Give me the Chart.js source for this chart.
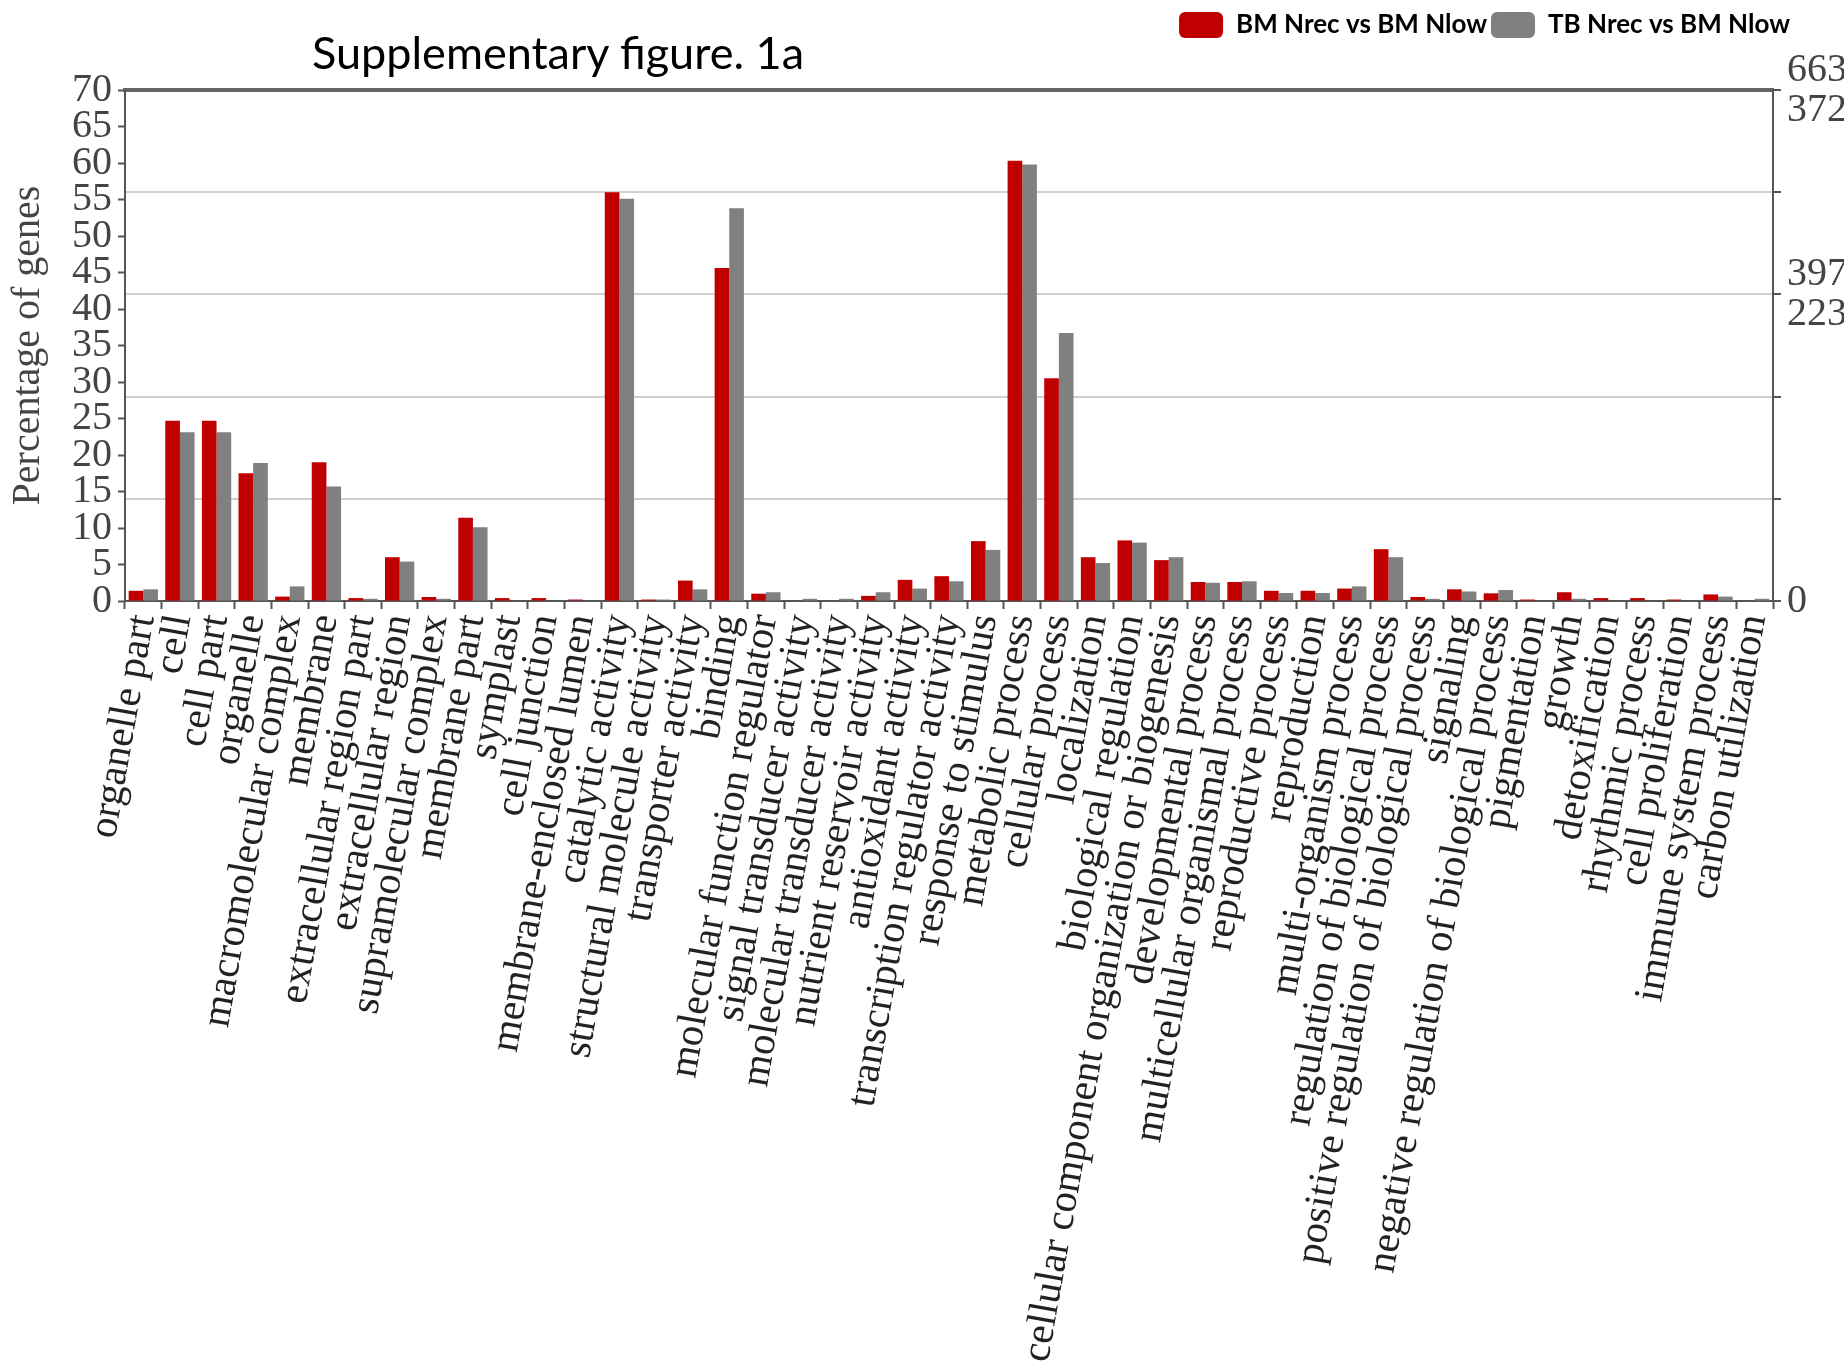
<!DOCTYPE html>
<html>
<head>
<meta charset="utf-8">
<script src="https://cdn.jsdelivr.net/npm/chart.js@4.4.1/dist/chart.umd.min.js"></script>
<style>
  html, body { margin: 0; padding: 0; background: #fff; }
  #wrap { position: relative; width: 1844px; height: 1362px; }
  #chart { position: absolute; left: 0; top: 0; }
  #title {
    position: absolute; left: 312px; top: 30px;
    font-family: Lato, "Open Sans", sans-serif; font-size: 45px; line-height: 1;
    color: #000; white-space: nowrap;
  }
</style>
</head>
<body>
<div id="wrap">
  <canvas id="chart" width="1844" height="1362"></canvas>
  <div id="title">Supplementary figure. 1a</div>
</div>
<script>
// GO categories along the x axis
const categories = [
  "organelle part", "cell", "cell part", "organelle", "macromolecular complex",
  "membrane", "extracellular region part", "extracellular region", "supramolecular complex",
  "membrane part", "symplast", "cell junction", "membrane-enclosed lumen",
  "catalytic activity", "structural molecule activity", "transporter activity", "binding",
  "molecular function regulator", "signal transducer activity", "molecular transducer activity",
  "nutrient reservoir activity", "antioxidant activity", "transcription regulator activity",
  "response to stimulus", "metabolic process", "cellular process", "localization",
  "biological regulation", "cellular component organization or biogenesis",
  "developmental process", "multicellular organismal process", "reproductive process",
  "reproduction", "multi-organism process", "regulation of biological process",
  "positive regulation of biological process", "signaling",
  "negative regulation of biological process", "pigmentation", "growth", "detoxification",
  "rhythmic process", "cell proliferation", "immune system process", "carbon utilization"
];

// percentage of genes
const bmNrecVsBmNlow = [
  1.4, 24.7, 24.7, 17.5, 0.6, 19.0, 0.4, 6.0, 0.55,
  11.4, 0.4, 0.4, 0.2,
  56.0, 0.2, 2.8, 45.6,
  1.0, 0, 0,
  0.7, 2.9, 3.4,
  8.2, 60.3, 30.5, 6.0,
  8.3, 5.6,
  2.6, 2.6, 1.4,
  1.4, 1.7, 7.1,
  0.55, 1.6,
  1.05, 0.2, 1.2, 0.4,
  0.4, 0.2, 0.9, 0
];
const tbNrecVsBmNlow = [
  1.6, 23.1, 23.1, 18.9, 2.0, 15.7, 0.3, 5.4, 0.3,
  10.1, 0, 0, 0,
  55.1, 0.2, 1.6, 53.8,
  1.2, 0.3, 0.3,
  1.2, 1.7, 2.7,
  7.0, 59.8, 36.7, 5.2,
  8.0, 6.0,
  2.5, 2.7, 1.1,
  1.1, 2.0, 6.0,
  0.3, 1.3,
  1.5, 0, 0.3, 0,
  0, 0, 0.6, 0.3
];
const seriesNames = ["BM Nrec vs BM Nlow", "TB Nrec vs BM Nlow"];

// left axis: percent, right axis: gene counts (top of each pair is BM, bottom is TB)
const leftMax = 70;
const leftStep = 5;
const rightTickLabels = ["0", "", "", ["397", "223"], "", ["663", "372"]];

const axisColor = "#555";
const serif = "'Liberation Serif', 'DejaVu Serif', serif";

// legend sits over the plot width; nudge it right so it ends near the canvas edge like the original
const legendNudge = {
  id: "legendNudge",
  afterLayout(chart) {
    const lg = chart.legend;
    const shift = chart.width - 50 - lg.right;
    lg.left += shift;
    lg.right += shift;
  }
};

new Chart(document.getElementById("chart"), {
  type: "bar",
  data: {
    labels: categories,
    datasets: [
      {
        label: seriesNames[0],
        data: bmNrecVsBmNlow,
        backgroundColor: "#c00000",
        borderWidth: 0,
        barPercentage: 1,
        categoryPercentage: 0.8,
        yAxisID: "y"
      },
      {
        label: seriesNames[1],
        data: tbNrecVsBmNlow,
        backgroundColor: "#808080",
        borderWidth: 0,
        barPercentage: 1,
        categoryPercentage: 0.8,
        yAxisID: "y"
      }
    ]
  },
  options: {
    responsive: false,
    animation: false,
    layout: { padding: { top: 8, right: 0, left: 0, bottom: 0 } },
    plugins: {
      legend: {
        position: "top",
        align: "end",
        fullSize: false,
        labels: {
          boxWidth: 44,
          boxHeight: 26,
          useBorderRadius: true,
          borderRadius: 6,
          padding: 4,
          color: "#000",
          font: { family: "Lato, 'Open Sans', sans-serif", size: 26, weight: "bold" }
        }
      },
      tooltip: { enabled: false }
    },
    scales: {
      x: {
        type: "category",
        position: "bottom",
        offset: true,
        grid: {
          offset: true,
          drawOnChartArea: false,
          tickLength: 8,
          tickWidth: 2,
          tickColor: axisColor
        },
        border: { color: axisColor, width: 2 },
        ticks: {
          autoSkip: false,
          minRotation: 80,
          maxRotation: 80,
          padding: 2,
          color: "#222",
          font: { family: serif, size: 41 }
        },
        afterFit: (s) => { s.height = 761; }
      },
      xTop: {
        type: "category",
        position: "top",
        display: true,
        grid: { display: false, drawTicks: false },
        ticks: { display: false },
        border: { display: true, color: "#666", width: 4 },
        afterFit: (s) => { s.height = 42; }
      },
      y: {
        type: "linear",
        position: "left",
        min: 0,
        max: leftMax,
        ticks: {
          stepSize: leftStep,
          autoSkip: false,
          padding: 6,
          color: "#444",
          font: { family: serif, size: 40 }
        },
        grid: {
          drawOnChartArea: false,
          tickLength: 7,
          tickWidth: 2,
          tickColor: axisColor
        },
        border: { color: axisColor, width: 2 },
        title: {
          display: true,
          text: "Percentage of genes",
          color: "#444",
          font: { family: serif, size: 40 },
          padding: { top: 4, bottom: 0 }
        },
        afterFit: (s) => { s.width = 125; }
      },
      yRight: {
        type: "linear",
        position: "right",
        display: true,
        min: 0,
        max: rightTickLabels.length - 1,
        ticks: {
          stepSize: 1,
          autoSkip: false,
          padding: 6,
          color: "#444",
          font: { family: serif, size: 40, lineHeight: 1 },
          callback: (v, i) => rightTickLabels[i]
        },
        grid: {
          drawOnChartArea: true,
          color: (c) => (c.index === 0 || c.index === rightTickLabels.length - 1) ? "rgba(0,0,0,0)" : "#d0d0d0",
          lineWidth: 2,
          tickLength: 8,
          tickWidth: 2,
          tickColor: axisColor
        },
        border: { color: axisColor, width: 2 },
        afterFit: (s) => { s.width = 71; }
      }
    }
  },
  plugins: [legendNudge]
});
</script>
</body>
</html>
